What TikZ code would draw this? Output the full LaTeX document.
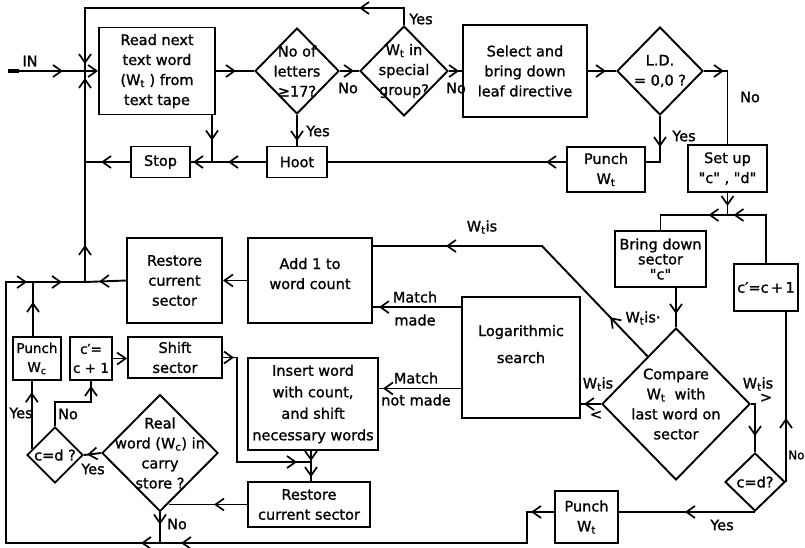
\documentclass[tikz,border=0pt]{standalone}
\usepackage{fontspec}
\newfontfamily\lett{DejaVu Sans}[FakeBold=1.2]
\usetikzlibrary{shapes.geometric,arrows.meta,decorations.markings,calc}
\begin{document}
\begin{tikzpicture}[x=1pt,y=-1pt]
\tikzset{
 cb/.tip={Straight Barb[length=8.5pt,width=12pt,line width=1.7pt]},
 every node/.style={font=\lett\fontsize{14.5}{20}\selectfont},
 box/.style={draw,rectangle,line width=1.9pt,inner sep=0pt,align=center},
 dia/.style={draw,diamond,line width=1.9pt,inner sep=0pt},
 txt/.style={inner sep=0pt,align=center},
 ln/.style={line width=1.9pt},
 ar/.style={postaction={decorate,decoration={markings,mark=at position #1 with {\arrow{cb}}}}},
}
\useasboundingbox (0,0) rectangle (805,547);

% nodes
\node[box,minimum width=116pt,minimum height=87pt] (read) at (157,71) {Read next\\text word\\(W\textsubscript{t} ) from\\text tape};
\node[dia,minimum width=84pt,minimum height=86pt,label={[txt]center:{No of\\letters\\≥17?}}] (d1) at (297,71) {};
\node[dia,minimum width=88pt,minimum height=90pt,label={[txt]center:{W\textsubscript{t} in\\special\\group?}}] (d2) at (404,71) {};
\node[box,minimum width=124pt,minimum height=92pt] (sel) at (525,71) {Select and\\bring down\\leaf directive};
\node[dia,minimum width=86pt,minimum height=88pt,label={[txt]center:{L.D.\\= 0,0 ?}}] (ld) at (660,71) {};
\node[box,minimum width=60pt,minimum height=31pt] (hoot) at (297,162) {Hoot};
\node[box,minimum width=59pt,minimum height=31pt] (stop) at (160.5,162) {Stop};
\node[box,minimum width=78pt,minimum height=45pt] (p1) at (606,169.5) {Punch\\W\textsubscript{t}};
\node[box,minimum width=79pt,minimum height=47pt] (setup) at (727.5,168.5) {Set up\\"c" , "d"};
\node[box,minimum width=91pt,minimum height=56pt,font=\lett\fontsize{14.5}{15}\selectfont] (bd) at (660.5,259) {Bring down\\sector\\"c"};
\node[box,minimum width=64pt,minimum height=47pt] (cp1) at (766,287.5) {c′=c\,+\,1};
\node[box,minimum width=124pt,minimum height=85pt] (add) at (310,280.5) {Add 1 to\\word count\\[-6pt]~};
\node[box,minimum width=95pt,minimum height=85pt] (res1) at (174.5,280.5) {Restore\\current\\sector};
\node[box,minimum width=118pt,minimum height=121pt,font=\lett\fontsize{14.5}{27}\selectfont] (log) at (521,357.5) {Logarithmic\\search\\~};
\node[dia,minimum width=148pt,minimum height=152pt,label={[txt]center:{Compare\\W\textsubscript{t}\ \ with\\last word on\\sector}}] (cmp) at (676,404) {};
\node[dia,minimum width=60pt,minimum height=58pt,label={[txt]center:{c=d?}}] (cd2) at (755,482) {};
\node[box,minimum width=63pt,minimum height=52pt] (p2) at (586.5,517) {Punch\\W\textsubscript{t}};
\node[box,minimum width=130pt,minimum height=92pt,font=\lett\fontsize{14.5}{21.5}\selectfont] (ins) at (313,404) {Insert word\\with count,\\and shift\\necessary words};
\node[box,minimum width=122pt,minimum height=45pt] (res2) at (309,504.5) {Restore\\current sector};
\node[dia,minimum width=116pt,minimum height=117pt,label={[txt]center:{Real\\word (W\textsubscript{c}) in\\carry\\store ?}}] (real) at (160,453) {};
\node[dia,minimum width=56pt,minimum height=56pt,label={[txt]center:{c=d ?}}] (cd1) at (55,455) {};
\node[box,minimum width=48pt,minimum height=43pt,font=\lett\fontsize{13.5}{19}\selectfont] (pc) at (37,358.5) {Punch\\W\textsubscript{c}};
\node[box,minimum width=42pt,minimum height=43pt,font=\lett\fontsize{13.5}{19}\selectfont] (cp2) at (91,358.5) {c′=\\c + 1};
\node[box,minimum width=94pt,minimum height=41pt] (shift) at (175,357.5) {Shift\\sector};

% coordinates
\coordinate (in) at (8,71);
\coordinate (j1) at (85,71);
\coordinate (tl) at (85,8);
\coordinate (jL) at (85,282);
\coordinate (jS) at (212,162);
\coordinate (jB) at (727.5,215);
\coordinate (jPc) at (33,282);
\coordinate (jBot) at (160,543);
\coordinate (bk) at (527,543);
\coordinate (bl) at (6,543);
\coordinate (jI) at (311,462);
\coordinate (sh) at (237,462);
\coordinate (dg) at (542,246);
\coordinate (nb) at (55,402);
\coordinate (ce) at ($(cmp.north)!0.38!(cmp.west)$);
\coordinate (re) at ($(real.south)!0.15!(real.east)$);
\coordinate (ce1) at ($(cd1.west)!0.2!(cd1.north)$);
\coordinate (lm) at ($(log.north west)!0.09!(log.south west)$);
\coordinate (lnm) at ($(log.north west)!0.752!(log.south west)$);

% IN
\draw[line width=4pt] (in) -- ++(11,0);
\draw[ln,ar=55pt] (in) -- (j1);
\node[txt] (inl) at (30,61) {IN};
\draw[ln,-{cb}] (j1) -- (read.west);

% top loop
\draw[ln,ar=62pt,ar=-7pt] (d2.north) |- (tl) -- (j1);
\node[txt] (y1) at (421,19) {Yes};
\draw[ln,ar=37pt,ar=-7pt] (jL) -- (j1);
\draw[ln,ar=29pt] (stop.west) -- (stop.west -| j1);
\draw[ln,ar=20pt] (read.east) -- (d1.west);
\draw[ln,ar=25pt] (jS |- read.south) -- (jS);
\draw[ln,ar=38pt,ar=73pt] (hoot.west) -- (stop.east);
\draw[ln,ar=26pt] (d1.south) -- (hoot.north);
\node[txt] (y2) at (318,131) {Yes};
\draw[ln,ar=-5pt] (d1.east) -- (d2.west);
\node[txt] (n1) at (348,88) {No};
\draw[ln,ar=-3pt] (d2.east) -- (sel.west);
\node[txt] (n2) at (456,88) {No};
\draw[ln,ar=18pt] (sel.east) -- (ld.west);
\draw[ln,ar=20pt] (ld.east) -| (setup.north);
\node[txt] (n3) at (750,97) {No};
\draw[ln,ar=31pt] (ld.south) |- (p1.east |- hoot.east);
\node[txt] (y3) at (684,136) {Yes};
\draw[ln,ar=20pt] (p1.west |- hoot.east) -- (hoot.east);

% right side
\draw[ln,ar=13pt] (setup.south) -- (jB);
\draw[ln,ar=-6pt] (cp1.north) |- (jB);
\draw[ln,ar=19pt] (jB) -| (bd.north);
\draw[ln,ar=26pt] (bd.south -| cmp.north) -- (cmp.north);
\draw[ln,ar=-16pt] (cmp.east) -| (cd2.north);
\node[txt] (l1) at (758,384) {W\textsubscript{t}is};
\node[txt] (l2) at (766,398) {>};
\draw[ln,ar=64pt] (cd2.east) -- (cd2.east |- cp1.south);
\node[txt,anchor=west,font=\lett\fontsize{12}{14}\selectfont] (n4) at (788,455) {No};
\draw[ln,ar=70pt] (cd2.south) -- (cd2.south -| p2.east);
\node[txt] (y4) at (722,525) {Yes};
\draw[ln,ar=23pt,ar=-21pt] (p2.west |- cd2.south) -| (bk) -- (jBot);
\draw[ln,ar=19pt,ar=-6pt] (jBot) -- (bl) |- (jPc);
\draw[ln,ar=29pt] (jPc) -- (jL);
\draw[ln,ar=27pt] (res1.west) -- (jL);
\draw[ln,ar=34pt] (jPc |- pc.north) -- (jPc);
\draw[ln,-{cb}] (add.west) -- (res1.east);

% middle
\draw[ln,ar=54pt,ar=-73pt] (ce) -- (dg) -- (dg -| add.east);
\node[txt] (l3) at (482,227) {W\textsubscript{t}is};
\node[txt] (l4) at (643,318) {W\textsubscript{t}is·};
\draw[ln,ar=-6pt] (lm) -- (lm -| add.east);
\node[txt] (m1) at (415,297) {Match};
\node[txt] (m2) at (415,320) {made};
\draw[ln,ar=-4pt] (lnm) -- (lnm -| ins.east);
\node[txt] (m3) at (416,378) {Match};
\node[txt] (m4) at (416,400) {not made};
\draw[ln,ar=-3pt] (cmp.west) -- (cmp.west -| log.east);
\node[txt] (l5) at (598,384) {W\textsubscript{t}is};
\node[txt] (l6) at (596,415) {<};

% lower left
\draw[ln,ar=11pt,ar=-14pt] (shift.east) -| (sh) -- (jI);
\draw[ln,ar=10pt,ar=-4pt] (ins.south -| jI) -- (res2.north -| jI);
\draw[ln,ar=33pt] (res2.west) -- (res2.west -| re);
\draw[ln,ar=12pt] (real.south) -- (jBot);
\node[txt] (n5) at (177,524) {No};
\draw[ln,ar=14pt] (real.west) -- (cd1.east);
\node[txt] (y5) at (93,469) {Yes};
\draw[ln,ar=57pt] (ce1) -- (ce1 |- pc.south);
\node[txt] (y6) at (21,413) {Yes};
\draw[ln,ar=-5pt] (cd1.north) -- (nb) -| (cp2.south);
\node[txt] (n6) at (68,414) {No};
\draw[ln,-{cb}] (cp2.east) -- (cp2.east -| shift.west);
\end{tikzpicture}
\end{document}
